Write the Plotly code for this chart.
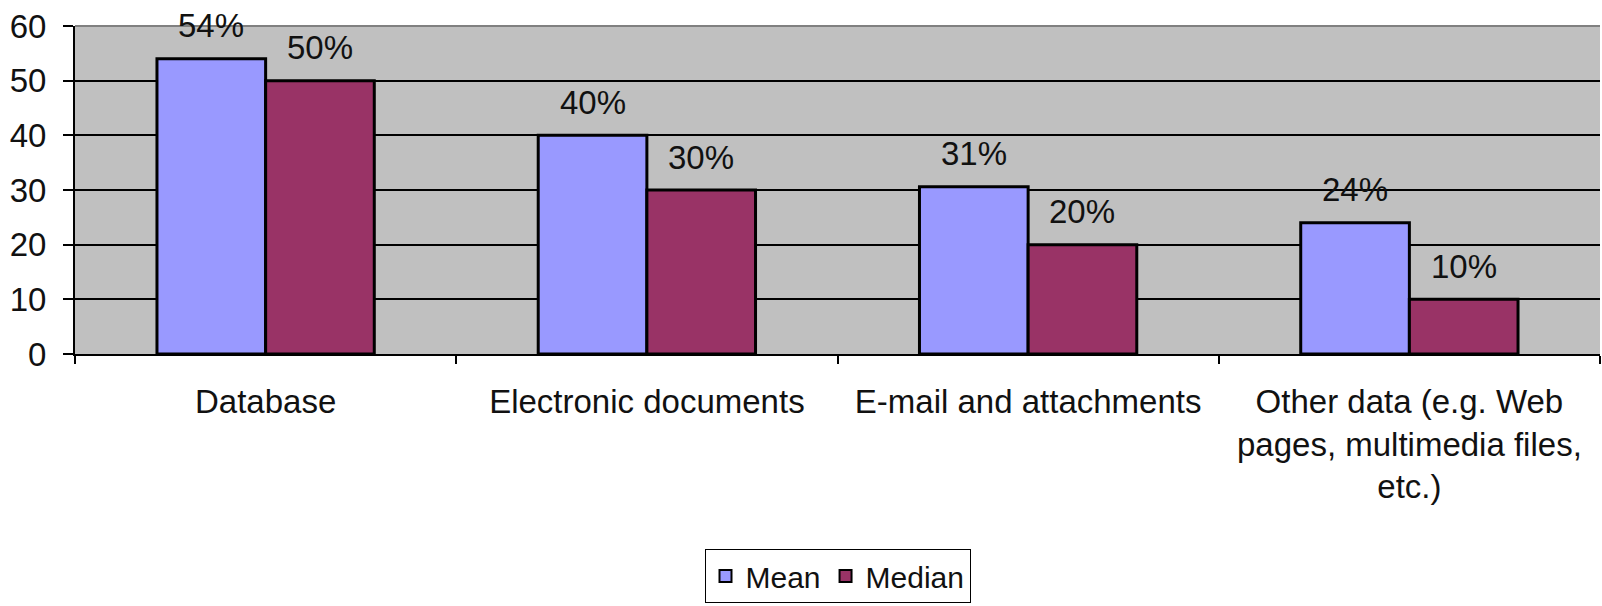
import plotly.graph_objects as go

categories = ["Database", "Electronic documents", "E-mail and attachments",
              "Other data (e.g. Web<br>pages, multimedia files,<br>etc.)"]
mean_values = [54, 40, 30.6, 24]
median_values = [50, 30, 20, 10]
mean_labels = ["54%", "40%", "31%", "24%"]
median_labels = ["50%", "30%", "20%", "10%"]
y_ticks = [0, 10, 20, 30, 40, 50, 60]

FONT = "Liberation Sans"
FS = 33
BARGAP = 0.43
TXT = "#111111"

fig = go.Figure()
fig.add_trace(go.Bar(name="Mean", x=categories, y=mean_values,
                     marker=dict(color="#9999FF", line=dict(color="black", width=3))))
fig.add_trace(go.Bar(name="Median", x=categories, y=median_values,
                     marker=dict(color="#993366", line=dict(color="black", width=3))))

half = (1 - BARGAP) / 4
for i, (mv, ml, dv, dl) in enumerate(zip(mean_values, mean_labels, median_values, median_labels)):
    fig.add_annotation(x=i - half, y=mv, text=ml, showarrow=False, xref="x", yref="y",
                       yanchor="middle", yshift=33, font=dict(family=FONT, size=FS, color=TXT))
    fig.add_annotation(x=i + half, y=dv, text=dl, showarrow=False, xref="x", yref="y",
                       yanchor="middle", yshift=33, font=dict(family=FONT, size=FS, color=TXT))

fig.add_shape(type="line", xref="paper", yref="paper", x0=0, x1=1, y0=1, y1=1,
              line=dict(color="#808080", width=2), layer="above")

fig.update_layout(
    width=1602, height=606,
    margin=dict(l=75, r=2, t=26, b=252, autoexpand=False),
    paper_bgcolor="white", plot_bgcolor="#C0C0C0",
    barmode="group", bargap=BARGAP, bargroupgap=0,
    font=dict(family=FONT, size=FS, color=TXT),
    showlegend=True,
    legend=dict(orientation="h", x=0.5, xanchor="center", xref="paper",
                y=1 - 549 / 606, yanchor="top", yref="container",
                bgcolor="white", bordercolor="black", borderwidth=1,
                font=dict(family=FONT, size=30, color=TXT),
                itemsizing="constant", tracegroupgap=0),
    xaxis=dict(type="category", tickson="boundaries", ticks="outside", ticklen=8,
               tickcolor="black", tickwidth=2, showline=True, linecolor="black", linewidth=2,
               showgrid=False, ticklabelstandoff=17, range=[-0.5, 3.5]),
    yaxis=dict(range=[0, 60], tickvals=y_ticks, ticks="outside", ticklen=10,
               tickcolor="black", tickwidth=2, showline=True, linecolor="black", linewidth=2,
               showgrid=True, gridcolor="black", gridwidth=1.5, zeroline=False,
               ticklabelstandoff=10),
)

fig.write_html("out.html")
